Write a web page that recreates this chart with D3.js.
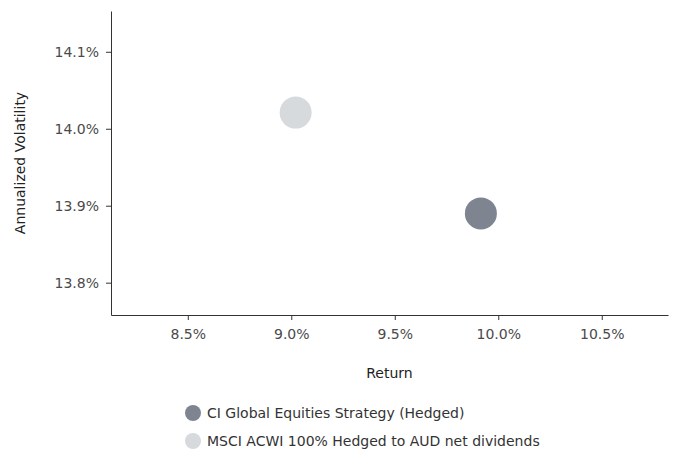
<!DOCTYPE html>
<html>
<head>
<meta charset="utf-8">
<script src="https://cdn.jsdelivr.net/npm/d3@7"></script>
<style>
  body { margin: 0; background: #fff; }
  text { font-family: "DejaVu Sans", Verdana, sans-serif; }
</style>
</head>
<body>
<svg id="canvas"></svg>
<script>
let seriesNames = ["CI Global Equities Strategy (Hedged)", "MSCI ACWI 100% Hedged to AUD net dividends"]
let seriesColors = ["#7f8491", "#d6dadd"]
let returns = [9.916, 9.021]
let volatility = [13.89, 14.021]
let xTicks = [8.5, 9.0, 9.5, 10.0, 10.5]
let yTicks = [13.8, 13.9, 14.0, 14.1]

let width = 673
let height = 452
let plotLeft = 111, plotRight = 668, plotTop = 11, plotBottom = 315

let canvas = d3.select("#canvas")
    .attr("width", width)
    .attr("height", height)

let xScale = d3.scaleLinear().domain([8.129, 10.82]).range([plotLeft, plotRight])
let yScale = d3.scaleLinear().domain([13.758, 14.153]).range([plotBottom, plotTop])

let xAxis = d3.axisBottom(xScale)
    .tickValues(xTicks)
    .tickSize(5)
    .tickSizeOuter(0)
    .tickFormat((d) => d.toFixed(1) + "%")
let yAxis = d3.axisLeft(yScale)
    .tickValues(yTicks)
    .tickSize(5)
    .tickSizeOuter(0)
    .tickFormat((d) => d.toFixed(1) + "%")

let gx = canvas.append("g")
    .attr("transform", "translate(0," + plotBottom + ")")
    .call(xAxis)
let gy = canvas.append("g")
    .attr("transform", "translate(" + plotLeft + ",0)")
    .call(yAxis)

for (let g of [gx, gy]) {
    g.selectAll("path, line").attr("stroke", "#333")
    g.selectAll("text")
        .attr("fill", "#4a4a4a")
        .style("font-size", "14px")
        .style("font-family", "'DejaVu Sans', Verdana, sans-serif")
}
gx.selectAll("text").attr("y", 14)
gy.selectAll("text").attr("x", -12)

canvas.append("text")
    .attr("x", (plotLeft + plotRight) / 2)
    .attr("y", 378)
    .attr("text-anchor", "middle")
    .attr("fill", "#222")
    .style("font-size", "14px")
    .text("Return")

canvas.append("text")
    .attr("transform", "translate(25,163) rotate(-90)")
    .attr("text-anchor", "middle")
    .attr("fill", "#222")
    .style("font-size", "14px")
    .text("Annualized Volatility")

let points = returns.map((r, i) => ({ x: r, y: volatility[i], color: seriesColors[i] }))

canvas.selectAll("circle.point")
    .data(points)
    .enter()
    .append("circle")
    .attr("class", "point")
    .attr("cx", (d) => xScale(d.x))
    .attr("cy", (d) => yScale(d.y))
    .attr("r", 16)
    .attr("fill", (d) => d.color)

let legend = canvas.selectAll("g.legend")
    .data(seriesNames)
    .enter()
    .append("g")
    .attr("class", "legend")
    .attr("transform", (d, i) => "translate(193," + (413 + i * 28) + ")")

legend.append("circle")
    .attr("r", 8)
    .attr("fill", (d, i) => seriesColors[i])

legend.append("text")
    .attr("x", 14)
    .attr("y", 5)
    .attr("fill", "#333")
    .style("font-size", "14px")
    .text((d) => d)
</script>
</body>
</html>
